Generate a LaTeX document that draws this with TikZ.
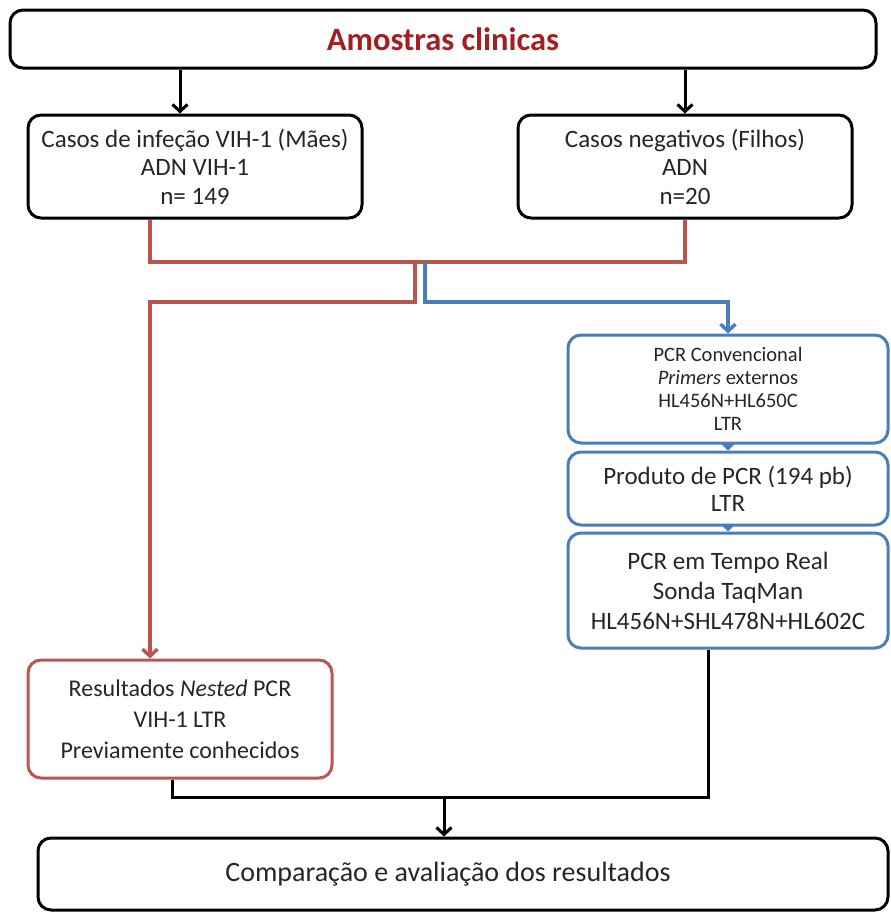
\documentclass[tikz,border=0pt]{standalone}
\usepackage{fontspec}
\setmainfont{Carlito}
\usetikzlibrary{arrows.meta,calc}
\definecolor{tred}{HTML}{A51E22}
\definecolor{lred}{HTML}{BC5450}
\definecolor{lblue}{HTML}{4A7EBB}
\begin{document}
\begin{tikzpicture}[x=1pt,y=-1pt,
  bbox/.style={draw=black,line width=3pt,rounded corners=13pt,align=center,inner sep=0pt,fill=white,text=black!85},
  rbox/.style={draw=lred,line width=3pt,rounded corners=13pt,align=center,inner sep=0pt,fill=white,text=black!85},
  blbox/.style={draw=lblue,line width=3pt,rounded corners=13pt,align=center,inner sep=0pt,fill=white,text=black!85},
  karrow/.style={line width=3pt,-{Straight Barb[length=7pt,width=15pt]}},
  rline/.style={draw=lred,line width=3.5pt},
  bline/.style={draw=lblue,line width=3.5pt},
  barrow/.style={draw=lblue,line width=3.5pt,-{Straight Barb[length=7pt,width=15pt]}},
  btri/.style={draw=lblue,line width=3.5pt,-{Triangle[length=7pt,width=14pt]}},
]
\useasboundingbox (0,0) rectangle (891,913);
% nodes
\node[bbox,minimum width=866pt,minimum height=58pt,font=\fontsize{32.5}{34}\selectfont\bfseries,text=tred] (top) at (443,39)
  {Amostras clinicas};
\node[bbox,minimum width=334pt,minimum height=103pt,font=\fontsize{25}{28.5}\selectfont] (lb) at (195,166.5)
  {Casos de infeção VIH-1 (Mães)\\ ADN VIH-1\\ n= 149};
\node[bbox,minimum width=334pt,minimum height=103pt,font=\fontsize{25}{28.5}\selectfont] (rb) at (685,166.5)
  {Casos negativos (Filhos)\\ ADN\\ n=20};
\node[blbox,minimum width=320pt,minimum height=108pt,font=\fontsize{20.5}{23}\selectfont] (b1) at (728,389)
  {PCR Convencional\\ \textit{Primers} externos\\ HL456N+HL650C\\ LTR};
\node[blbox,minimum width=320pt,minimum height=73pt,font=\fontsize{25}{27}\selectfont] (b2) at (728,488.5)
  {Produto de PCR (194 pb)\\ LTR};
\node[blbox,minimum width=320pt,minimum height=115pt,font=\fontsize{25}{30}\selectfont] (b3) at (728,590.5)
  {PCR em Tempo Real\\ Sonda TaqMan\\ HL456N+SHL478N+HL602C};
\node[rbox,minimum width=304pt,minimum height=118pt,font=\fontsize{24}{31}\selectfont] (res) at (180,719)
  {Resultados \textit{Nested} PCR\\ VIH-1 LTR\\ Previamente conhecidos};
\node[bbox,minimum width=850pt,minimum height=72pt,font=\fontsize{28}{32}\selectfont] (cmp) at (463,874)
  {Comparação e avaliação dos resultados\hspace*{30pt}};
% black arrows from top
\draw[karrow] ([xshift=-15pt]lb.north |- top.south) -- ([xshift=-15pt]lb.north);
\draw[karrow] (rb.north |- top.south) -- (rb.north);
% red bracket
\coordinate (rj) at (415,262);
\coordinate (bj) at (425,262);
\draw[rline] ([xshift=-45pt]lb.south) |- (rj) -| (rb.south);
\draw[rline,-{Straight Barb[length=7pt,width=15pt]}] (rj) -- (415,302) -| ([xshift=-30pt]res.north);
% blue branch
\draw[barrow] (bj) -- (425,302) -| (b1.north);
\draw[btri] (b1.south) -- (b2.north);
\draw[btri] (b2.south) -- (b3.north);
% black merge
\coordinate (mj) at (444,797);
\draw[line width=3pt] ([xshift=-8pt]res.south) |- (mj) -| ([xshift=-20pt]b3.south);
\draw[karrow] (mj) -- (cmp.north -| mj);
\end{tikzpicture}
\end{document}
